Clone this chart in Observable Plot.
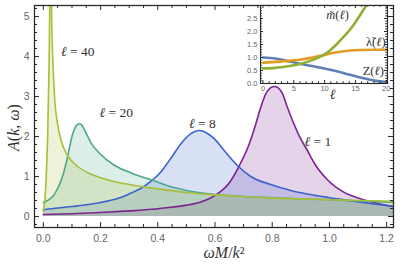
<!DOCTYPE html>
<html><head><meta charset="utf-8">
<script src="https://cdn.jsdelivr.net/npm/d3@7"></script>
<script src="https://cdn.jsdelivr.net/npm/@observablehq/plot@0.6"></script>
<style>
body{margin:0;background:#fff;}
#wrap{position:relative;width:415px;height:268px;overflow:hidden;}
#wrap svg{position:absolute;overflow:visible;}
</style></head><body><div id="wrap"></div>
<script>
// ---- main chart data: spectral function A(k, ω) for several ℓ ----
const seriesNames = ["ℓ = 1", "ℓ = 8", "ℓ = 20", "ℓ = 40"];
const seriesColors = ["#7e2490", "#3d63d0", "#4ea88e", "#a8bf3a"];

const omegaL1 = [0, 0.1, 0.2, 0.3, 0.38, 0.43, 0.48, 0.55, 0.586, 0.61, 0.656, 0.685, 0.72, 0.743, 0.76, 0.778, 0.795, 0.807, 0.82, 0.836, 0.853, 0.871, 0.894, 0.923, 0.95, 0.993, 1.05, 1.11, 1.167, 1.224];
const aL1     = [0.05, 0.07, 0.1, 0.14, 0.18, 0.22, 0.26, 0.36, 0.47, 0.57, 0.9, 1.27, 1.82, 2.32, 2.73, 3.07, 3.22, 3.25, 3.22, 3.07, 2.73, 2.4, 2.02, 1.65, 1.3, 0.92, 0.61, 0.44, 0.33, 0.25];

const omegaL8 = [0, 0.035, 0.1, 0.14, 0.2, 0.233, 0.28, 0.314, 0.345, 0.372, 0.4, 0.419, 0.45, 0.481, 0.516, 0.545, 0.575, 0.598, 0.632, 0.679, 0.725, 0.795, 0.865, 0.946, 1.0, 1.109, 1.224];
const aL8     = [0.17, 0.2, 0.25, 0.28, 0.35, 0.4, 0.5, 0.61, 0.72, 0.86, 1.03, 1.19, 1.5, 1.82, 2.07, 2.15, 2.07, 1.94, 1.65, 1.27, 1.0, 0.8, 0.65, 0.53, 0.47, 0.36, 0.25];

const omegaL20 = [0, 0.02, 0.035, 0.05, 0.07, 0.087, 0.1, 0.115, 0.126, 0.135, 0.145, 0.168, 0.198, 0.244, 0.314, 0.384, 0.453, 0.5, 0.6, 0.7, 0.8, 0.9, 1.0, 1.1, 1.224];
const aL20     = [0.35, 0.42, 0.52, 0.7, 1.07, 1.57, 2.0, 2.27, 2.32, 2.28, 2.15, 1.82, 1.57, 1.3, 1.07, 0.9, 0.73, 0.65, 0.55, 0.5, 0.47, 0.44, 0.42, 0.39, 0.36];

const omegaL40 = [0, 0.005, 0.01, 0.015, 0.02, 0.025, 0.03, 0.035, 0.04, 0.05, 0.06, 0.08, 0.1, 0.12, 0.16, 0.2, 0.25, 0.3, 0.4, 0.5, 0.6, 0.7, 0.8, 0.9, 1.0, 1.1, 1.224];
const aL40     = [0.13, 0.4, 1.0, 2.0, 3.8, 6.5, 4.6, 3.6, 2.9, 2.3, 1.95, 1.58, 1.38, 1.25, 1.08, 0.97, 0.87, 0.8, 0.69, 0.6, 0.54, 0.5, 0.46, 0.44, 0.42, 0.4, 0.38];

const xTickLabels = [0, 0.2, 0.4, 0.6, 0.8, 1.0, 1.2];
const yTickLabels = [0, 1, 2, 3, 4, 5];

// annotation text for the curves (label, ω, A)
const curveLabels = ["ℓ = 40", "ℓ = 20", "ℓ = 8", "ℓ = 1"];
const curveLabelX = [0.12, 0.255, 0.556, 0.96];
const curveLabelY = [4.12, 2.6, 2.32, 1.87];

// ---- inset data: running couplings vs ℓ ----
const insetNames = ["Z(ℓ)", "λ̃(ℓ)", "m̃(ℓ)"];
const insetColors = ["#5e81b5", "#e19c24", "#8fb032"];
const ellZ = [0, 2, 3.5, 6.2, 8, 10.5, 12, 13.7, 15.3, 16.9, 18.3, 20];
const valZ = [1.0, 0.96, 0.89, 0.75, 0.67, 0.55, 0.47, 0.36, 0.26, 0.17, 0.1, 0.06];
const ellLam = [0, 2, 4, 6.2, 8, 10.5, 12, 14.2, 16, 18, 20];
const valLam = [0.8, 0.83, 0.87, 0.92, 1.0, 1.13, 1.2, 1.27, 1.29, 1.3, 1.3];
const ellM = [0, 2, 4, 6.2, 8, 9, 10, 11, 12, 13, 14, 15, 16, 17.5];
const valM = [0.58, 0.6, 0.66, 0.76, 0.9, 1.0, 1.12, 1.3, 1.52, 1.77, 2.04, 2.36, 2.72, 3.3];
const insetXTicks = [0, 5, 10, 15, 20];
const insetYTicks = [0, 0.5, 1.0, 1.5, 2.0, 2.5];
const insetLabelX = [17.9, 18.3, 12.1];
const insetLabelY = [0.5, 1.58, 2.62];

// ---- build tables ----
const mainSeries = [
  omegaL1.map((w, i) => ({w, a: aL1[i], s: seriesNames[0]})),
  omegaL8.map((w, i) => ({w, a: aL8[i], s: seriesNames[1]})),
  omegaL20.map((w, i) => ({w, a: aL20[i], s: seriesNames[2]})),
  omegaL40.map((w, i) => ({w, a: aL40[i], s: seriesNames[3]}))
];
const insetSeries = [
  ellZ.map((l, i) => ({l, v: valZ[i], s: insetNames[0]})),
  ellLam.map((l, i) => ({l, v: valLam[i], s: insetNames[1]})),
  ellM.map((l, i) => ({l, v: valM[i], s: insetNames[2]}))
];

const frameColor = "#2a2a2a";
const tickColor = "#666";
const textColor = "#333";
const serif = "Liberation Serif, DejaVu Serif, serif";
const sans = "Liberation Sans, DejaVu Sans, sans-serif";

function frameTicks(xMaj, xMin, yMaj, yMin, innerW, innerH, maj, min) {
  return [
    Plot.ruleX(xMaj, {stroke: frameColor, insetTop: innerH - maj}),
    Plot.ruleX(xMaj, {stroke: frameColor, insetBottom: innerH - maj}),
    Plot.ruleX(xMin, {stroke: frameColor, insetTop: innerH - min}),
    Plot.ruleX(xMin, {stroke: frameColor, insetBottom: innerH - min}),
    Plot.ruleY(yMaj, {stroke: frameColor, insetRight: innerW - maj}),
    Plot.ruleY(yMaj, {stroke: frameColor, insetLeft: innerW - maj}),
    Plot.ruleY(yMin, {stroke: frameColor, insetRight: innerW - min}),
    Plot.ruleY(yMin, {stroke: frameColor, insetLeft: innerW - min})
  ];
}

// style math text: italic symbols, upright punctuation/digits
const italicChars = "ℓωMkAm";
function mathify(svg) {
  d3.select(svg).selectAll(".math text").each(function () {
    const s = this.textContent;
    const node = d3.select(this);
    node.text(null);
    const chars = Array.from(s);
    let i = 0;
    while (i < chars.length) {
      const it = italicChars.includes(chars[i]);
      let j = i;
      let chunk = "";
      while (j < chars.length && (j === i || /[\u0300-\u036f]/.test(chars[j]) || italicChars.includes(chars[j]) === it)) { chunk += chars[j]; j++; }
      node.append("tspan").attr("font-style", it ? "italic" : "normal").text(chunk);
      i = j;
    }
  });
}

// ---- main chart ----
const W = 415, H = 268, mL = 34, mR = 22, mT = 5, mB = 41;
const xDomain = [-0.031, 1.224], yDomain = [-0.275, 5.275];
const xMinor = d3.range(0, 1.2001, 0.05).filter(v => Math.abs(v * 5 - Math.round(v * 5)) > 1e-6);
const yMinor = d3.range(-0.2, 5.2001, 0.2).filter(v => Math.abs(v - Math.round(v)) > 1e-6);

const main = Plot.plot({
  width: W, height: H,
  marginLeft: mL, marginRight: mR, marginTop: mT, marginBottom: mB,
  x: {domain: xDomain},
  y: {domain: yDomain},
  style: {background: "transparent"},
  marks: [
    ...mainSeries.map((d, i) => Plot.areaY(d, {x: "w", y: "a", fill: seriesColors[i], fillOpacity: 0.2, curve: "monotone-x", clip: true})),
    ...mainSeries.map((d, i) => Plot.lineY(d, {x: "w", y: "a", stroke: seriesColors[i], strokeWidth: 1.6, curve: "monotone-x", clip: true})),
    ...frameTicks(xTickLabels, xMinor, yTickLabels, yMinor, W - mL - mR, H - mT - mB, 5, 3),
    Plot.frame({stroke: frameColor, strokeWidth: 1.3}),
    Plot.axisX(xTickLabels, {tickSize: 0, tickPadding: 7, tickFormat: d3.format(".1f"), fill: tickColor, fontSize: 10.5, fontFamily: sans, label: null}),
    Plot.axisY(yTickLabels, {tickSize: 0, tickPadding: 5, tickFormat: d3.format("d"), fill: tickColor, fontSize: 10.5, fontFamily: sans, label: null}),
    Plot.text(curveLabels, {x: curveLabelX, y: curveLabelY, text: d => d, className: "math", fontFamily: serif, fontSize: 13.5, fill: textColor}),
    Plot.text(["ωM/k²"], {frameAnchor: "bottom", lineAnchor: "middle", dy: 25, dx: 10, className: "math", fontFamily: serif, fontSize: 16, fill: textColor}),
    Plot.text(["A(k, ω)"], {frameAnchor: "left", textAnchor: "middle", lineAnchor: "middle", rotate: -90, dx: -21, dy: 11, className: "math", fontFamily: serif, fontSize: 16, fill: textColor})
  ]
});
main.style.left = "0px"; main.style.top = "0px";
document.getElementById("wrap").appendChild(main);

// ---- inset ----
const iW = 160, iH = 100, iL = 20, iR = 13, iT = 5, iB = 17;
const ixMinor = d3.range(1, 20, 1).filter(v => v % 5 !== 0);
const iyMinor = d3.range(0.1, 3.0, 0.1).filter(v => Math.abs(v * 2 - Math.round(v * 2)) > 1e-6);
const inset = Plot.plot({
  width: iW, height: iH,
  marginLeft: iL, marginRight: iR, marginTop: iT, marginBottom: iB,
  x: {domain: [-0.4, 20.2]},
  y: {domain: [0, 3.0]},
  style: {background: "transparent"},
  marks: [
    Plot.frame({fill: "white"}),
    ...insetSeries.map((d, i) => Plot.lineY(d, {x: "l", y: "v", stroke: insetColors[i], strokeWidth: 2.6, curve: "monotone-x", clip: true})),
    ...frameTicks(insetXTicks, ixMinor, insetYTicks, iyMinor, iW - iL - iR, iH - iT - iB, 3, 1.8),
    Plot.frame({stroke: frameColor, strokeWidth: 1.1}),
    Plot.axisX(insetXTicks, {tickSize: 0, tickPadding: 2, fill: tickColor, fontSize: 7.5, fontFamily: sans, label: null}),
    Plot.axisY(insetYTicks, {tickSize: 0, tickPadding: 3, tickFormat: d3.format(".1f"), fill: tickColor, fontSize: 7.5, fontFamily: sans, label: null}),
    Plot.text(["ℓ"], {frameAnchor: "bottom", lineAnchor: "middle", x: 11.3, dy: 11, className: "math", fontFamily: serif, fontSize: 14, fill: textColor}),
    Plot.text(insetNames, {x: insetLabelX, y: insetLabelY, text: d => d, className: "math", fontFamily: serif, fontSize: 12.5, fill: textColor})
  ]
});
inset.style.left = "240px"; inset.style.top = "0px";
document.getElementById("wrap").appendChild(inset);
mathify(main);
mathify(inset);
</script>
</body></html>
